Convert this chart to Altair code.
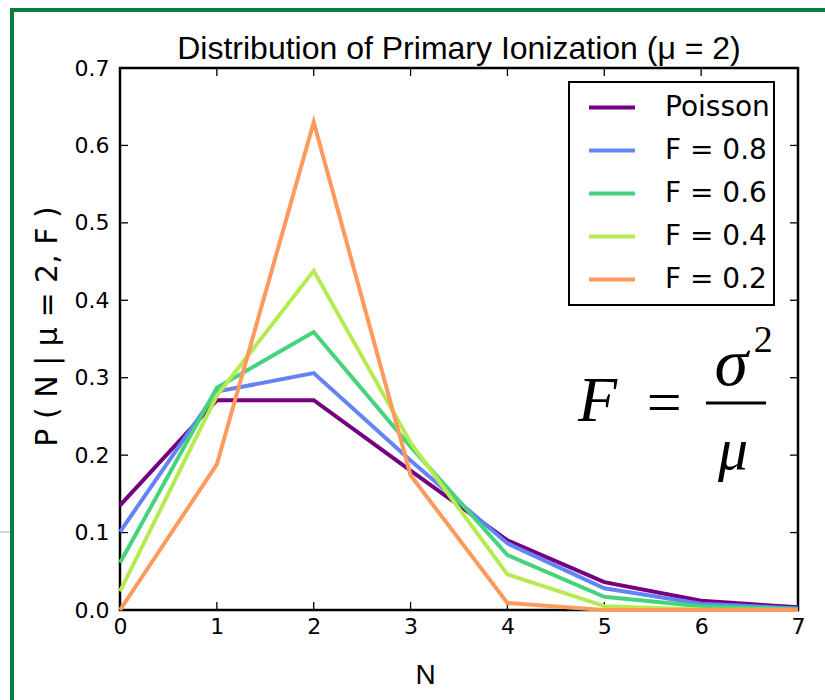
import altair as alt
import pandas as pd

# ---- data -------------------------------------------------------------
N = [0, 1, 2, 3, 4, 5, 6, 7]
series_names = ["Poisson", "F = 0.8", "F = 0.6", "F = 0.4", "F = 0.2"]
series_colors = ["#74007f", "#6383f7", "#45d47c", "#b6ea52", "#fd9a5c"]
poisson = [0.135, 0.271, 0.271, 0.180, 0.090, 0.036, 0.012, 0.0034]
f08 = [0.101, 0.282, 0.306, 0.193, 0.086, 0.028, 0.008, 0.002]
f06 = [0.061, 0.287, 0.359, 0.211, 0.071, 0.017, 0.005, 0.001]
f04 = [0.024, 0.277, 0.438, 0.216, 0.046, 0.005, 0.0005, 0.0]
f02 = [0.0, 0.188, 0.630, 0.174, 0.009, 0.0, 0.0, 0.0]
x_ticks = [0, 1, 2, 3, 4, 5, 6, 7]
y_ticks = [0.0, 0.1, 0.2, 0.3, 0.4, 0.5, 0.6, 0.7]
title_text = "Distribution of Primary Ionization (\u03bc = 2)"
x_title = "N"
y_title = "P ( N | \u03bc = 2, F )"

# formula annotation pieces (data coordinates)
formula_text = ["F", "=", "\u03c3", "2", "\u03bc"]
formula_x = [4.93, 5.62, 6.31, 6.64, 6.33]
formula_y = [0.268, 0.266, 0.316, 0.347, 0.205]
formula_size = [64, 62, 68, 38, 60]
formula_style = ["italic", "normal", "italic", "normal", "italic"]
frac_x = [6.05, 6.67]
frac_y = [0.2675]

W, H = 678, 542

rows = []
for name, vals in zip(series_names, [poisson, f08, f06, f04, f02]):
    for n, v in zip(N, vals):
        rows.append({"N": n, "P": v, "series": name, "k": series_names.index(name)})
df = pd.DataFrame(rows)

xs = alt.Scale(domain=[0, 7], nice=False, zero=False)
ys = alt.Scale(domain=[0, 0.7], nice=False, zero=False)

lines = alt.Chart(df).mark_line(strokeWidth=4, clip=False).encode(
    x=alt.X("N:Q", scale=xs,
            axis=alt.Axis(values=x_ticks, format="d", ticks=False, domain=False, grid=False,
                          labelFlush=False, labelOverlap=False,
                          labelFont="DejaVu Sans", labelFontSize=22, labelColor="black",
                          labelPadding=6, title=x_title, titleFont="Liberation Sans",
                          titleFontSize=28, titleFontWeight="normal", titleColor="black",
                          titleX=305, titleY=73, titleBaseline="alphabetic")),
    y=alt.Y("P:Q", scale=ys,
            axis=alt.Axis(values=y_ticks, format=".1f", ticks=False, domain=False, grid=False,
                          labelFlush=False, labelOverlap=False,
                          labelFont="DejaVu Sans", labelFontSize=22, labelColor="black",
                          labelPadding=11, title=y_title, titleFont="DejaVu Sans",
                          titleFontSize=30, titleFontWeight="normal", titleColor="black",
                          titleX=-64, titleY=258, titleBaseline="alphabetic")),
    color=alt.Color("series:N",
                    scale=alt.Scale(domain=series_names, range=series_colors),
                    legend=alt.Legend(title=None, orient="none", legendX=449, legendY=14)),
    order=alt.Order("k:Q"),
    detail="series:N",
)

# inward ticks (matplotlib style) on all four sides
xt = pd.DataFrame({"t": x_ticks[1:-1]})
yt = pd.DataFrame({"t": y_ticks[1:-1]})
tick_len = 8
tb = alt.Chart(xt).mark_rule(color="black", strokeWidth=1.3).encode(
    x=alt.X("t:Q", scale=xs), y=alt.value(H), y2=alt.value(H - tick_len))
tt = alt.Chart(xt).mark_rule(color="black", strokeWidth=1.3).encode(
    x=alt.X("t:Q", scale=xs), y=alt.value(0), y2=alt.value(tick_len))
tl = alt.Chart(yt).mark_rule(color="black", strokeWidth=1.3).encode(
    y=alt.Y("t:Q", scale=ys), x=alt.value(0), x2=alt.value(tick_len))
tr = alt.Chart(yt).mark_rule(color="black", strokeWidth=1.3).encode(
    y=alt.Y("t:Q", scale=ys), x=alt.value(W), x2=alt.value(W - tick_len))

# formula F = sigma^2 / mu
fdf = pd.DataFrame({"txt": formula_text, "x": formula_x, "y": formula_y,
                    "s": formula_size, "st": formula_style})
formula_layers = []
for i in range(len(formula_text)):
    formula_layers.append(
        alt.Chart(fdf.iloc[[i]]).mark_text(
            font="Liberation Serif", fontSize=formula_size[i], fontStyle=formula_style[i],
            align="center", baseline="middle", color="black"
        ).encode(x=alt.X("x:Q", scale=xs), y=alt.Y("y:Q", scale=ys), text="txt:N")
    )
frac = alt.Chart(pd.DataFrame({"x": [frac_x[0]], "x2": [frac_x[1]], "y": frac_y})).mark_rule(
    color="black", strokeWidth=3).encode(
    x=alt.X("x:Q", scale=xs), x2="x2:Q", y=alt.Y("y:Q", scale=ys))

# title as text (kept inside the page)
title_mark = alt.Chart(pd.DataFrame({"t": [title_text]})).mark_text(
    font="Liberation Sans", fontSize=32, align="center", baseline="alphabetic", color="black"
).encode(x=alt.value(W / 2), y=alt.value(-9), text="t:N")

# decorative frame of the original screenshot
green_v = alt.Chart(pd.DataFrame({"a": [0]})).mark_rule(color="#0c7c3f", strokeWidth=4).encode(
    x=alt.value(-108), y=alt.value(-60), y2=alt.value(H + 90))
green_h = alt.Chart(pd.DataFrame({"a": [0]})).mark_rule(color="#0c7c3f", strokeWidth=4).encode(
    x=alt.value(-110), x2=alt.value(W + 27), y=alt.value(-58))
gray_h = alt.Chart(pd.DataFrame({"a": [0]})).mark_rule(color="#aaaaaa", strokeWidth=1).encode(
    x=alt.value(-120), x2=alt.value(-110), y=alt.value(464))

chart = alt.layer(
    green_v, green_h, gray_h, title_mark, tb, tt, tl, tr, lines, frac, *formula_layers
).properties(
    width=W, height=H,
    background="white",
    autosize=alt.AutoSizeParams(type="none"),
    padding={"left": 120, "top": 68, "right": 27, "bottom": 90},
).configure_view(
    stroke="black", strokeWidth=2.5
).configure_legend(
    strokeColor="black", strokeWidth=2, fillColor="white", padding=4, cornerRadius=0,
    symbolType="stroke", symbolSize=2116, symbolStrokeWidth=4, symbolOffset=14,
    labelFont="DejaVu Sans", labelFontSize=28, labelColor="black", labelOffset=28,
    clipHeight=43, rowPadding=0
)

chart.save("out.html", embed_options={"renderer": "svg", "actions": False})
